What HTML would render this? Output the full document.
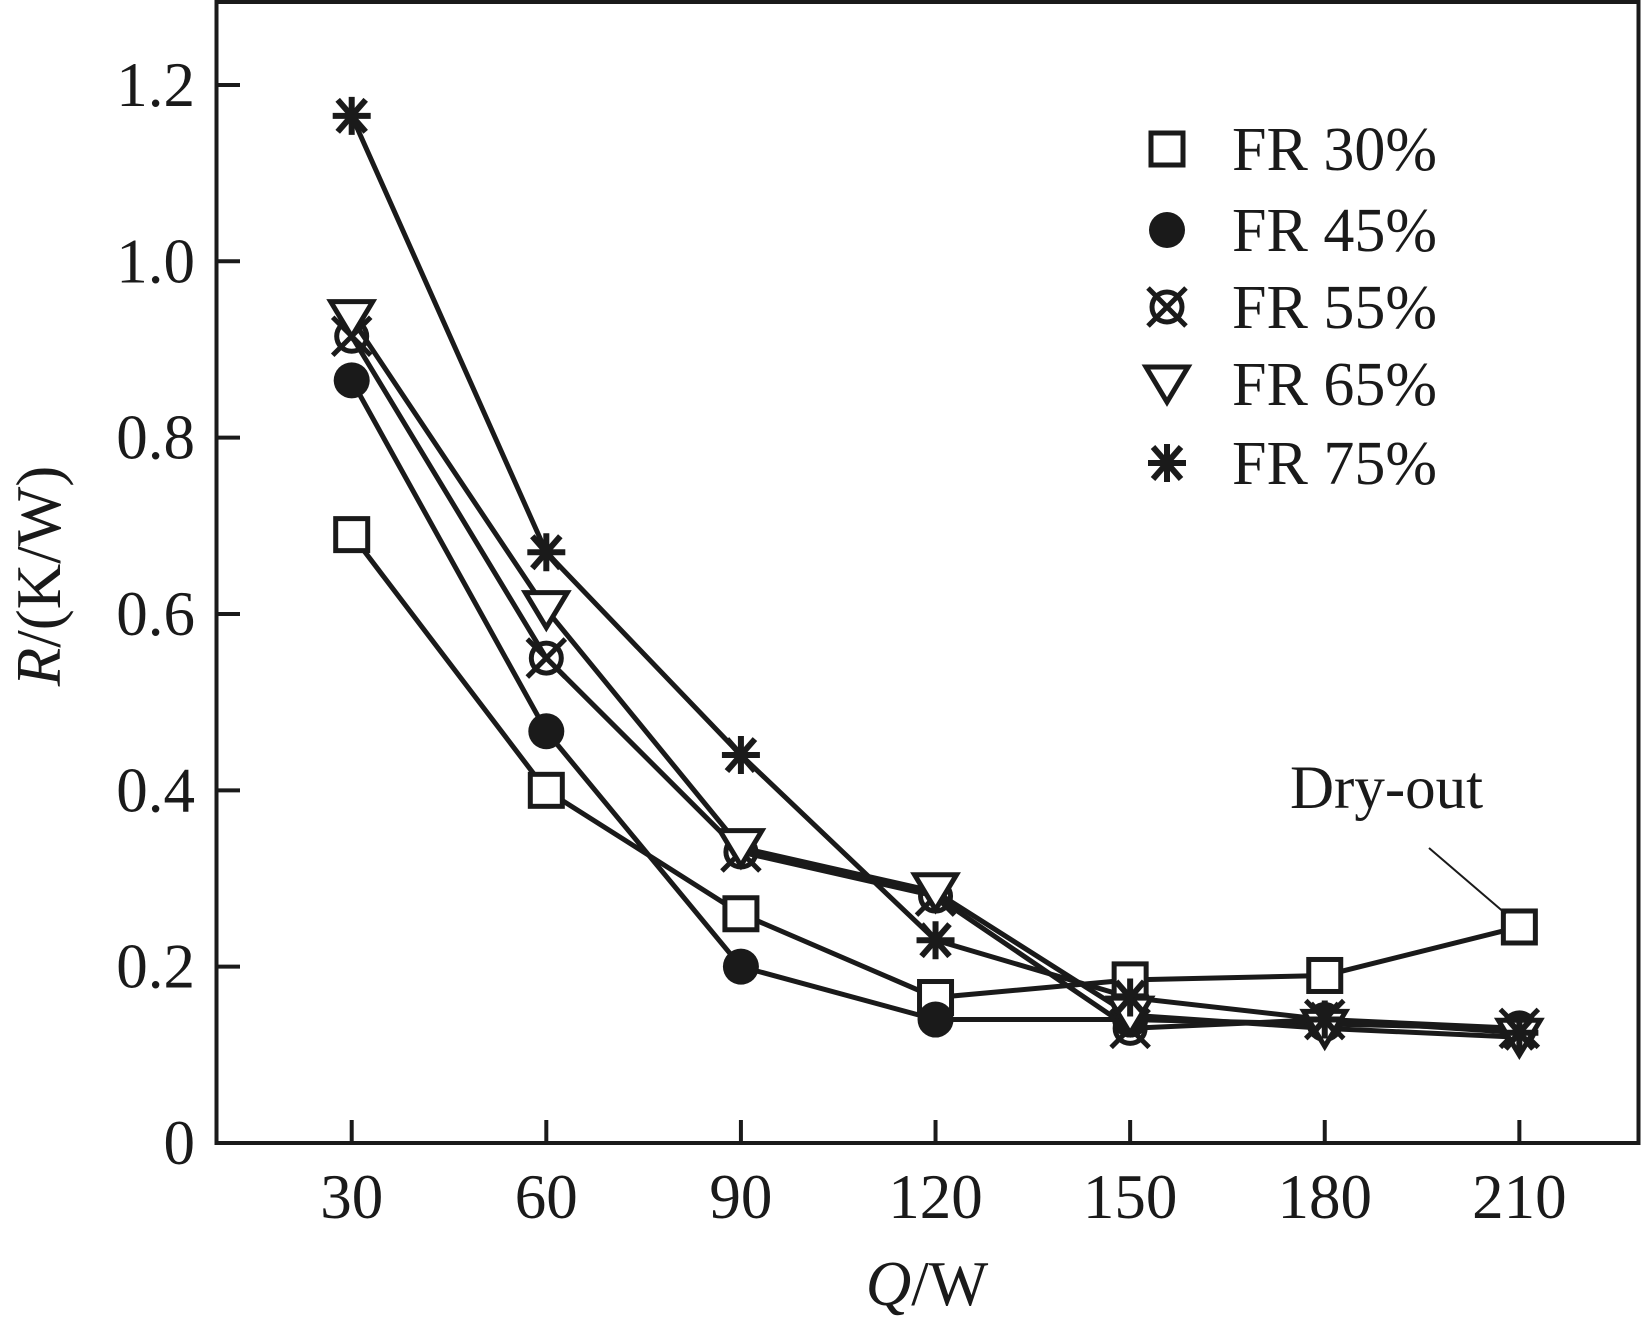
<!DOCTYPE html>
<html><head><meta charset="utf-8"><style>
html,body{margin:0;padding:0;background:#fff;}
svg text{font-family:"Liberation Serif",serif;fill:#1a1a1a;}
</style></head><body>
<svg id="chart" width="1642" height="1323" viewBox="0 0 1642 1323" xmlns="http://www.w3.org/2000/svg"></svg>
<script>
const categories=[30,60,90,120,150,180,210];
const seriesNames=["FR 30%","FR 45%","FR 55%","FR 65%","FR 75%"];
const fr30=[0.69,0.40,0.26,0.165,0.185,0.19,0.245];
const fr45=[0.865,0.467,0.20,0.14,0.14,0.135,0.13];
const fr55=[0.915,0.55,0.33,0.28,0.13,0.14,0.13];
const fr65=[0.935,0.605,0.335,0.285,0.145,0.13,0.12];
const fr75=[1.165,0.67,0.44,0.23,0.165,0.14,0.125];
const yTicks=[0,0.2,0.4,0.6,0.8,1.0,1.2];
const yTickLabels=["0","0.2","0.4","0.6","0.8","1.0","1.2"];

const NS="http://www.w3.org/2000/svg";
const svg=document.getElementById('chart');
const X=q=>351.7+(q-30)*6.487;
const Y=v=>1143-v*881.7;
function mk(tag,attrs,parent){const e=document.createElementNS(NS,tag);for(const k in attrs)e.setAttribute(k,attrs[k]);(parent||svg).appendChild(e);return e;}

const frame=mk('rect',{x:216.5,y:2,width:1422,height:1141,fill:'none',stroke:'#1a1a1a','stroke-width':4});



categories.forEach(c=>{
  const t=mk('line',{x1:X(c),x2:X(c),y1:1143,y2:1120,stroke:'#1a1a1a','stroke-width':4});
  
  
  const l=mk('text',{x:X(c),y:1218,'font-size':63,'text-anchor':'middle'});l.textContent=c;
  
  
});
yTicks.forEach((v,i)=>{
  const t=mk('line',{x1:216,x2:240,y1:Y(v),y2:Y(v),stroke:'#1a1a1a','stroke-width':4});
  
  
  const l=mk('text',{x:195,y:Y(v)+21,'font-size':63,'text-anchor':'end'});l.textContent=yTickLabels[i];
  
  
});

const xt=mk('text',{x:927,y:1305,'font-size':63,'text-anchor':'middle'});
xt.innerHTML='<tspan font-style="italic">Q</tspan>/W';


const yt=mk('text',{x:0,y:0,'font-size':63,'text-anchor':'middle',transform:'translate(60,576) rotate(-90)'});
yt.innerHTML='<tspan font-style="italic">R</tspan>/(K/W)';



function marker(type,x,y,g){
  const s={stroke:'#1a1a1a','stroke-width':5,fill:'none'};
  if(type==0){mk('rect',{x:x-16,y:y-16,width:32,height:32,fill:'#fff',stroke:'#1a1a1a','stroke-width':5},g);}
  else if(type==1){mk('circle',{cx:x,cy:y,r:18,fill:'#1a1a1a'},g);}
  else if(type==2){mk('circle',Object.assign({cx:x,cy:y,r:15},s),g);
    mk('line',Object.assign({x1:x-19,y1:y-19,x2:x+19,y2:y+19},s),g);
    mk('line',Object.assign({x1:x-19,y1:y+19,x2:x+19,y2:y-19},s),g);}
  else if(type==3){mk('polygon',{points:`${x-21},${y-17} ${x+21},${y-17} ${x},${y+18}`,fill:'#fff',stroke:'#1a1a1a','stroke-width':5},g);}
  else {[[-19,0,19,0],[-14,-16,14,16],[-14,16,14,-16],[0,-19,0,19]].forEach(a=>mk('line',{x1:x+a[0],y1:y+a[1],x2:x+a[2],y2:y+a[3],stroke:'#1a1a1a','stroke-width':6},g));}
}

const all=[fr30,fr45,fr55,fr65,fr75];
all.forEach((d,si)=>{
  const g=mk('g',{});
  
  
  const p=mk('polyline',{points:d.map((v,i)=>X(categories[i])+','+Y(v)).join(' '),fill:'none',stroke:'#1a1a1a','stroke-width':5},g);
  
  
});
all.forEach((d,si)=>{
  const g=mk('g',{});
  
  
  d.forEach((v,i)=>marker(si,X(categories[i]),Y(v),g));
});

const legY=[149,230,307,384,463];
seriesNames.forEach((n,i)=>{
  const g=mk('g',{});
  
  
  marker(i,1167,legY[i],g);
  const t=mk('text',{x:1232,y:legY[i]+21,'font-size':62},g);t.textContent=n;
});

const dl=mk('line',{x1:1429,y1:848,x2:1506,y2:914,stroke:'#1a1a1a','stroke-width':2});


const dt=mk('text',{x:1290,y:808,'font-size':61});dt.textContent='Dry-out';


</script>
</body></html>
